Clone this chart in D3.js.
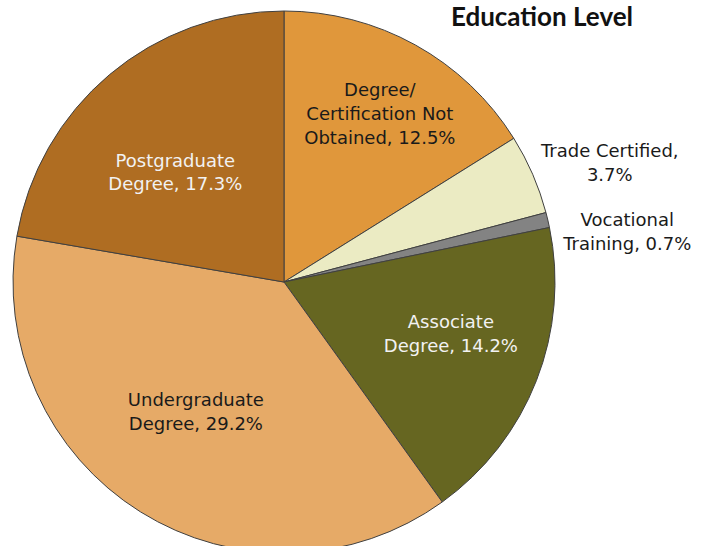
<!DOCTYPE html>
<html>
<head>
<meta charset="utf-8">
<script src="https://cdn.jsdelivr.net/npm/d3@7"></script>
<style>
  body { margin: 0; background: #fff; }
  svg { display: block; }
</style>
</head>
<body>
<div id="pie-chart"></div>
<script>
// data
var categories = ["Degree/Certification Not Obtained", "Trade Certified", "Vocational Training",
                  "Associate Degree", "Undergraduate Degree", "Postgraduate Degree"];
var percentages = [12.5, 3.7, 0.7, 14.2, 29.2, 17.3];
var labelLines = [
    ["Degree/", "Certification Not", "Obtained, 12.5%"],
    ["Trade Certified,", "3.7%"],
    ["Vocational", "Training, 0.7%"],
    ["Associate", "Degree, 14.2%"],
    ["Undergraduate", "Degree, 29.2%"],
    ["Postgraduate", "Degree, 17.3%"]
];

var color = ["#e0973b", "#ebebc3", "#838383", "#666621", "#e6aa67", "#af6d22"];
var textColor = ["#1a1a1a", "#1a1a1a", "#1a1a1a", "#f2f2f2", "#1a1a1a", "#f2f2f2"];
// label placement: [angle in degrees from 12 o'clock, distance as share of radius]
var labelAt = [[29.7, 0.714], [69.9, 1.28], [81.7, 1.28], [107.3, 0.645], [214.1, 0.58], [315.3, 0.57]];

var width = 702;
var height = 546;
var radius = 271;
var cx = 284, cy = 282;

var svg = d3.select('#pie-chart')
    .append('svg')
    .attr('width', width)
    .attr('height', height);

var g = svg.append('g')
    .attr('transform', 'translate(' + cx + ',' + cy + ')');

var arc = d3.arc()
    .innerRadius(0)
    .outerRadius(radius);

var pie = d3.pie()
    .value(function(d) { return d; })
    .sort(null);

g.selectAll('path')
    .data(pie(percentages))
    .enter()
    .append('path')
    .attr('d', arc)
    .attr('fill', function(d, i) { return color[i]; })
    .attr('stroke', '#404040')
    .attr('stroke-width', 1);

var lineHeight = 24;

var labels = g.selectAll('text.label')
    .data(labelLines)
    .enter()
    .append('text')
    .attr('class', 'label')
    .attr('text-anchor', 'middle')
    .attr('transform', function(d, i) {
        var a = labelAt[i][0] * Math.PI / 180;
        var r = labelAt[i][1] * radius;
        return 'translate(' + (r * Math.sin(a)) + ',' + (-r * Math.cos(a)) + ')';
    })
    .attr('style', function(d, i) {
        return 'font-family: "DejaVu Sans", sans-serif; font-size: 18px; fill: ' + textColor[i];
    });

labels.selectAll('tspan')
    .data(function(d) { return d.map(function(t, k) { return { t: t, k: k, n: d.length }; }); })
    .enter()
    .append('tspan')
    .attr('x', 0)
    .attr('y', function(d) { return (d.k - (d.n - 1) / 2) * lineHeight; })
    .attr('dy', '0.35em')
    .text(function(d) { return d.t; });

svg.append('text')
    .attr('x', 542)
    .attr('y', 26)
    .attr('text-anchor', 'middle')
    .attr('style', 'font-family: Lato, sans-serif; font-weight: bold; font-size: 26px; fill: #111')
    .text('Education Level');
</script>
</body>
</html>
